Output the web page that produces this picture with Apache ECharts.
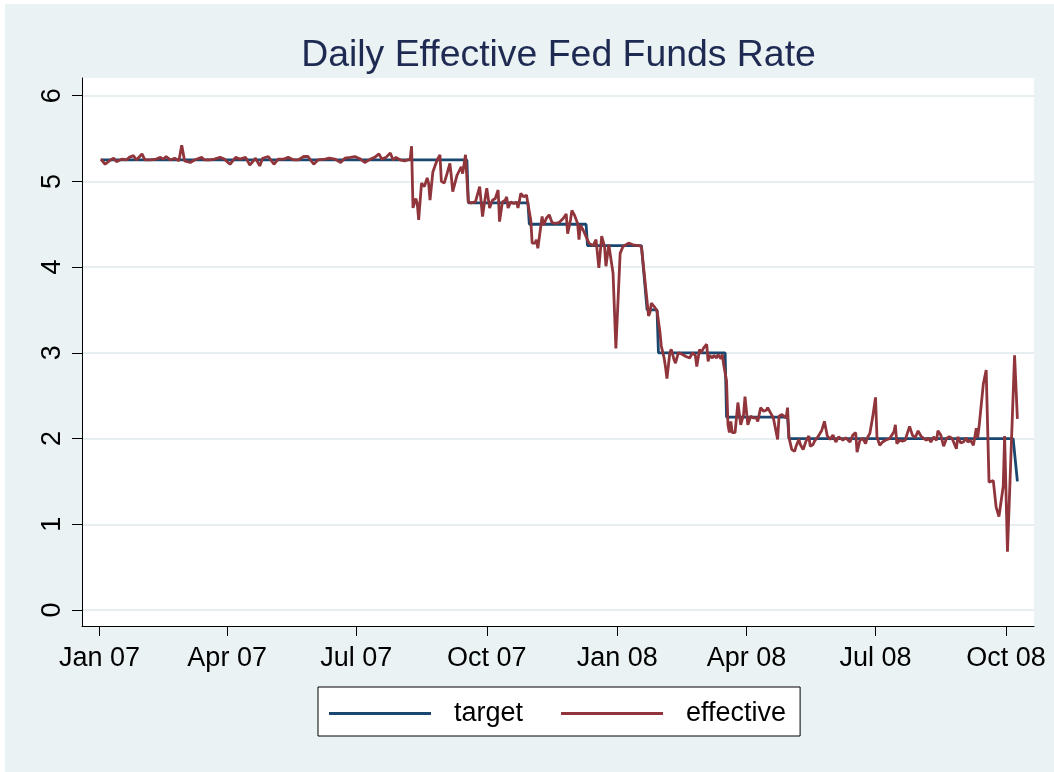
<!DOCTYPE html>
<html><head><meta charset="utf-8">
<script src="https://cdn.jsdelivr.net/npm/echarts@6/dist/echarts.min.js"></script>
<style>html,body{margin:0;padding:0;background:#fff;overflow:hidden;}#c{position:absolute;left:5px;top:4px;width:1060px;height:780px;}</style>
</head><body><div id="c"></div><script>
const chartTitle = 'Daily Effective Fed Funds Rate';
const tickDates = ['2007-01-01','2007-04-01','2007-07-01','2007-10-01','2008-01-01','2008-04-01','2008-07-01','2008-10-01'];
const tickLabels = ['Jan 07','Apr 07','Jul 07','Oct 07','Jan 08','Apr 08','Jul 08','Oct 08'];
const yTicks = [0,1,2,3,4,5,6];
const seriesNames = ['target','effective'];

const targetDates = ['2007-01-02','2007-09-17','2007-09-18','2007-10-30','2007-10-31','2007-12-10','2007-12-11','2008-01-18','2008-01-22','2008-01-29','2008-01-30','2008-03-17','2008-03-18','2008-04-30','2008-05-01','2008-10-06','2008-10-09'];
const targetValues = [5.25,5.25,4.75,4.75,4.5,4.5,4.25,4.25,3.5,3.5,3.0,3.0,2.25,2.25,2.0,2.0,1.5];

const effDates = [
'2007-01-02','2007-01-05','2007-01-08','2007-01-11','2007-01-13','2007-01-17','2007-01-20','2007-01-22','2007-01-25','2007-01-27','2007-01-31',
'2007-02-02','2007-02-06','2007-02-10','2007-02-13','2007-02-15','2007-02-17','2007-02-20','2007-02-23','2007-02-26','2007-02-28',
'2007-03-02','2007-03-06','2007-03-09','2007-03-14','2007-03-16','2007-03-20','2007-03-23','2007-03-27','2007-03-30',
'2007-04-03','2007-04-07','2007-04-10','2007-04-14','2007-04-17','2007-04-21','2007-04-24','2007-04-26','2007-04-30',
'2007-05-04','2007-05-07','2007-05-11','2007-05-14','2007-05-18','2007-05-21','2007-05-25','2007-05-28',
'2007-06-01','2007-06-04','2007-06-09','2007-06-12','2007-06-16','2007-06-20','2007-06-23','2007-06-27','2007-06-30',
'2007-07-04','2007-07-07','2007-07-11','2007-07-14','2007-07-17','2007-07-19','2007-07-22','2007-07-25','2007-07-27','2007-07-29',
'2007-08-01','2007-08-04','2007-08-08','2007-08-09','2007-08-10','2007-08-12','2007-08-13','2007-08-14','2007-08-16','2007-08-18','2007-08-20','2007-08-21','2007-08-22','2007-08-24','2007-08-27','2007-08-29','2007-08-30',
'2007-09-01','2007-09-03','2007-09-05','2007-09-06','2007-09-07','2007-09-10','2007-09-11','2007-09-13','2007-09-14','2007-09-16','2007-09-17','2007-09-18','2007-09-20','2007-09-23','2007-09-24','2007-09-26','2007-09-28','2007-09-30',
'2007-10-01','2007-10-03','2007-10-05','2007-10-07','2007-10-09','2007-10-10','2007-10-12','2007-10-14','2007-10-15','2007-10-16','2007-10-18','2007-10-20','2007-10-22','2007-10-23','2007-10-25','2007-10-27','2007-10-29','2007-10-30',
'2007-11-01','2007-11-02','2007-11-04','2007-11-05','2007-11-06','2007-11-09','2007-11-10','2007-11-12','2007-11-14','2007-11-16','2007-11-18','2007-11-21','2007-11-24','2007-11-26','2007-11-27','2007-11-29','2007-11-30',
'2007-12-02','2007-12-04','2007-12-05','2007-12-06','2007-12-08','2007-12-09','2007-12-12','2007-12-13','2007-12-15','2007-12-17','2007-12-19','2007-12-21','2007-12-23','2007-12-24','2007-12-26','2007-12-29','2007-12-31',
'2008-01-03','2008-01-05','2008-01-06','2008-01-09','2008-01-12','2008-01-16','2008-01-17','2008-01-18','2008-01-22','2008-01-23','2008-01-24','2008-01-25','2008-01-27','2008-01-29','2008-01-31',
'2008-02-01','2008-02-03','2008-02-04','2008-02-05','2008-02-07','2008-02-08','2008-02-10','2008-02-11','2008-02-13','2008-02-14','2008-02-16','2008-02-18','2008-02-19','2008-02-21','2008-02-23','2008-02-25','2008-02-26','2008-02-28','2008-02-29',
'2008-03-02','2008-03-04','2008-03-05','2008-03-06','2008-03-08','2008-03-09','2008-03-11','2008-03-12','2008-03-14','2008-03-15','2008-03-16','2008-03-18','2008-03-19','2008-03-20','2008-03-21','2008-03-22','2008-03-24','2008-03-25','2008-03-26','2008-03-28','2008-03-29','2008-03-30','2008-03-31',
'2008-04-02','2008-04-04','2008-04-06','2008-04-08','2008-04-09','2008-04-11','2008-04-13','2008-04-15','2008-04-16','2008-04-18','2008-04-20','2008-04-21','2008-04-23','2008-04-24','2008-04-26','2008-04-27','2008-04-29','2008-04-30',
'2008-05-01','2008-05-03','2008-05-05','2008-05-06','2008-05-08','2008-05-09','2008-05-11','2008-05-13','2008-05-15','2008-05-16','2008-05-18','2008-05-19','2008-05-21','2008-05-22','2008-05-24','2008-05-26','2008-05-28','2008-05-30',
'2008-06-01','2008-06-03','2008-06-05','2008-06-08','2008-06-10','2008-06-13','2008-06-15','2008-06-17','2008-06-18','2008-06-20','2008-06-22','2008-06-24','2008-06-25','2008-06-27','2008-06-29',
'2008-07-01','2008-07-02','2008-07-04','2008-07-06','2008-07-08','2008-07-11','2008-07-12','2008-07-14','2008-07-15','2008-07-16','2008-07-18','2008-07-20','2008-07-22','2008-07-23','2008-07-25','2008-07-27','2008-07-29','2008-07-31',
'2008-08-02','2008-08-04','2008-08-06','2008-08-07','2008-08-09','2008-08-11','2008-08-13','2008-08-14','2008-08-16','2008-08-18','2008-08-20','2008-08-22','2008-08-24','2008-08-25','2008-08-27','2008-08-28','2008-08-30',
'2008-09-01','2008-09-03','2008-09-04','2008-09-06','2008-09-08','2008-09-10','2008-09-11','2008-09-12','2008-09-15','2008-09-16','2008-09-17','2008-09-19','2008-09-22','2008-09-24','2008-09-25','2008-09-26','2008-09-29','2008-09-30',
'2008-10-02','2008-10-07','2008-10-09'
];
const effValues = [
5.26,5.20,5.24,5.27,5.23,5.26,5.25,5.28,5.30,5.25,5.32,
5.25,5.25,5.26,5.28,5.26,5.29,5.25,5.27,5.24,5.42,
5.24,5.22,5.25,5.28,5.25,5.25,5.26,5.28,5.26,
5.20,5.28,5.26,5.28,5.19,5.27,5.18,5.27,5.29,
5.20,5.26,5.26,5.28,5.25,5.25,5.29,5.29,
5.20,5.25,5.26,5.27,5.26,5.22,5.27,5.28,5.29,
5.26,5.22,5.26,5.28,5.32,5.26,5.28,5.33,5.25,5.28,
5.25,5.24,5.26,5.41,4.69,4.80,4.74,4.55,4.98,4.94,5.04,4.98,4.78,5.11,5.25,5.31,5.00,
4.98,5.09,5.21,5.06,4.88,5.07,5.06,5.17,5.09,5.31,5.33,4.76,4.75,4.76,4.74,4.94,4.59,4.82,
4.92,4.69,4.78,4.80,4.90,4.53,4.76,4.78,4.82,4.69,4.76,4.74,4.76,4.69,4.86,4.82,4.84,4.74,
4.55,4.28,4.28,4.32,4.22,4.59,4.49,4.57,4.61,4.52,4.51,4.52,4.57,4.62,4.39,4.55,4.66,
4.60,4.51,4.32,4.49,4.43,4.45,4.28,4.30,4.25,4.32,3.99,4.36,4.24,4.01,4.26,3.93,3.05,
4.16,4.24,4.25,4.28,4.26,4.25,4.24,4.24,3.60,3.43,3.47,3.58,3.54,3.49,3.25,
3.08,2.94,2.83,2.70,3.00,3.04,2.92,2.88,3.00,3.02,2.98,2.96,2.97,2.94,3.00,2.97,2.84,3.04,3.00,
3.06,3.10,2.90,2.97,2.94,2.97,2.94,2.98,2.93,2.98,2.86,2.67,2.16,2.07,2.20,2.07,2.07,2.09,2.42,2.16,2.22,2.28,2.49,
2.16,2.26,2.24,2.24,2.20,2.36,2.32,2.33,2.36,2.30,2.24,2.26,1.99,2.26,2.28,2.28,2.24,2.36,
2.01,1.87,1.85,1.91,1.99,1.93,1.87,1.97,2.03,1.91,1.93,1.97,2.01,2.03,2.09,2.20,2.03,1.99,
2.04,1.96,2.02,1.98,2.01,1.96,2.04,2.07,1.84,1.98,2.00,1.94,2.00,2.06,2.25,
2.48,2.02,1.92,1.96,1.98,2.00,2.02,2.08,2.16,1.94,1.98,1.97,1.98,2.04,2.14,2.04,2.01,2.09,
2.03,2.00,1.98,2.01,1.96,2.02,1.98,2.09,2.04,1.91,2.00,2.02,2.00,1.98,1.88,2.02,1.95,
1.96,2.01,1.96,1.98,1.92,2.12,2.01,2.14,2.64,2.62,2.80,1.49,1.51,1.20,1.22,1.09,1.44,2.03,
0.68,2.97,2.23
];

function ts(s){ const p = s.split('-'); return Date.UTC(+p[0], +p[1]-1, +p[2]); }
const DAY = 86400000;
const tickTs = tickDates.map(ts);
const targetData = targetDates.map((d,i)=>[ts(d), targetValues[i]]);
const effData = effDates.map((d,i)=>[ts(d), effValues[i]]);
const font = 'Liberation Sans, Arial, sans-serif';

const chart = echarts.init(document.getElementById('c'), null, {renderer:'canvas'});
chart.setOption({
  animation: false,
  backgroundColor: '#EAF2F3',
  textStyle: {fontFamily: font},
  title: {
    text: chartTitle, left: 553.5, top: 33, padding: 0, textAlign: 'center',
    textStyle: {fontSize: 37.4, fontWeight: 'normal', color: '#1E2A52', fontFamily: font}
  },
  grid: {left: 77, right: 31, top: 74, bottom: 158, show: true, backgroundColor: '#ffffff', borderWidth: 0, outerBoundsMode: 'none'},
  xAxis: {
    type: 'value',
    min: ts('2007-01-01') - 12.3*DAY,
    max: ts('2007-01-01') + 658.7*DAY,
    axisLine: {show: true, onZero: false, lineStyle: {color: '#000', width: 1}},
    axisTick: {show: true, customValues: tickTs, length: 10, lineStyle: {color: '#000', width: 1}},
    axisLabel: {customValues: tickTs, formatter: v => tickLabels[tickTs.indexOf(v)], fontSize: 27, color: '#000', margin: 19, fontFamily: font},
    splitLine: {show: false}
  },
  yAxis: {
    type: 'value', min: -0.187, max: 6.206,
    axisLine: {show: true, onZero: false, lineStyle: {color: '#000', width: 1}},
    axisTick: {show: true, customValues: yTicks, length: 10, lineStyle: {color: '#000', width: 1}},
    axisLabel: {customValues: yTicks, rotate: 90, fontSize: 27, color: '#000', margin: 16, fontFamily: font},
    splitLine: {show: true, lineStyle: {color: '#E6EEF0', width: 2}}
  },
  legend: {
    left: 313, top: 683, orient: 'horizontal',
    padding: [13, 14, 9, 11], itemGap: 38, itemWidth: 102, itemHeight: 3, icon: 'rect',
    backgroundColor: '#ffffff', borderColor: '#000', borderWidth: 1, borderRadius: 0,
    textStyle: {fontSize: 27, lineHeight: 27, color: '#000', padding: [0, 0, 0, 18], fontFamily: font},
    data: seriesNames
  },
  series: [
    {name: seriesNames[0], type: 'line', data: targetData, symbol: 'none', showSymbol: false,
     lineStyle: {color: '#1A476F', width: 2.8}, itemStyle: {color: '#1A476F'}, z: 2},
    {name: seriesNames[1], type: 'line', data: effData, symbol: 'none', showSymbol: false,
     lineStyle: {color: '#90353B', width: 2.8}, itemStyle: {color: '#90353B'}, z: 3}
  ]
});
</script></body></html>
